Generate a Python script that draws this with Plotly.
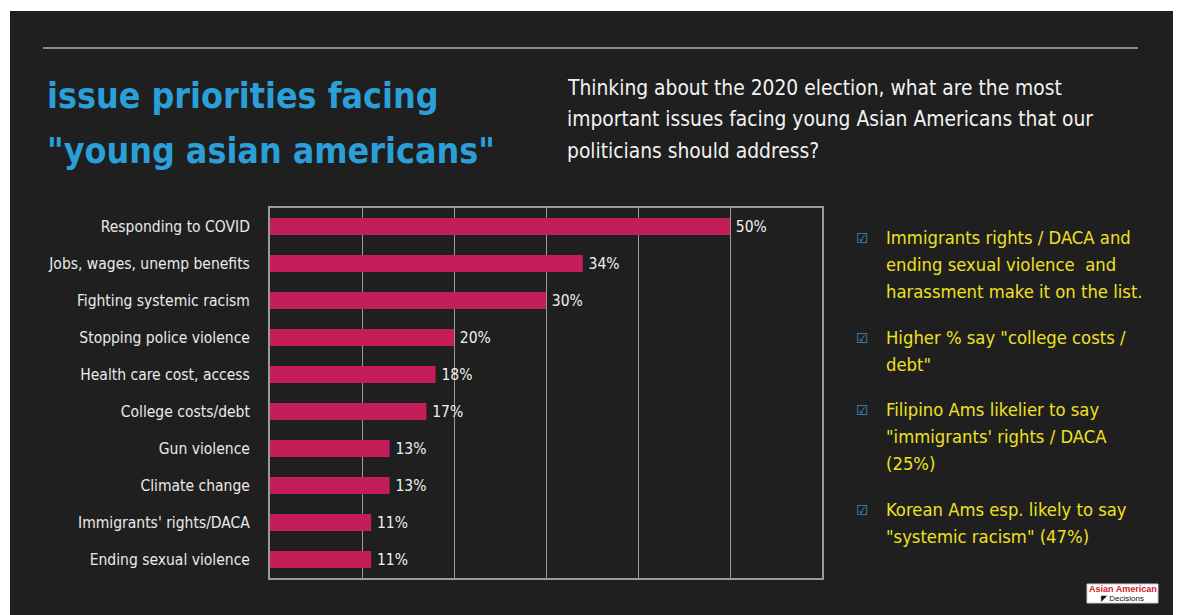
import plotly.graph_objects as go

W, H = 1178, 615
PL, PR, PT, PB = 270, 822, 208, 578  # plot area in pixels

categories = ["Responding to COVID", "Jobs, wages, unemp benefits", "Fighting systemic racism",
              "Stopping police violence", "Health care cost, access", "College costs/debt",
              "Gun violence", "Climate change", "Immigrants' rights/DACA", "Ending sexual violence"]
values = [50, 34, 30, 20, 18, 17, 13, 13, 11, 11]

title_lines = ["issue priorities facing", "\"young asian americans\""]
subtitle_lines = ["Thinking about the 2020 election, what are the most",
                  "important issues facing young Asian Americans that our",
                  "politicians should address?"]
notes = [
    ["Immigrants rights / DACA and", "ending sexual violence  and", "harassment make it on the list."],
    ["Higher % say \"college costs /", "debt\""],
    ["Filipino Ams likelier to say", "\"immigrants' rights / DACA", "(25%)"],
    ["Korean Ams esp. likely to say", "\"systemic racism\" (47%)"],
]

FONT = "Liberation Sans Narrow, DejaVu Sans Condensed, Arial Narrow, sans-serif"
BG = "#1f1f1f"


def px(x):
    return (x - PL) / (PR - PL)


def py(y):
    return (PB - y) / (PB - PT)


fig = go.Figure()
fig.add_trace(go.Bar(
    x=values, y=categories, orientation="h",
    marker=dict(color="#c41e5a", line=dict(width=0)),
    width=0.46,
    text=[f"\u2009{v}%" for v in values], textposition="outside", constraintext="none",
    textfont=dict(family=FONT, size=15.5, color="#f0f0f0"),
    cliponaxis=False,
))

shapes = [
    dict(type="rect", xref="paper", yref="paper", x0=px(10), x1=px(1173), y0=py(615), y1=py(11),
         fillcolor=BG, line=dict(width=0), layer="below"),
    dict(type="line", xref="paper", yref="paper", x0=px(43), x1=px(1138), y0=py(48), y1=py(48),
         line=dict(color="#8a8a8a", width=2)),
    dict(type="rect", xref="paper", yref="paper", x0=px(1087), x1=px(1158), y0=py(603), y1=py(584),
         fillcolor="white", line=dict(color="#cccccc", width=1)),
]

ann = []
title_y = [95, 150]
for t, y in zip(title_lines, title_y):
    ann.append(dict(text=f"<b>{t}</b>", x=px(45), y=py(y), xref="paper", yref="paper",
                    xanchor="left", yanchor="middle", showarrow=False,
                    font=dict(family=FONT, size=35.5, color="#2a9fd8")))
sub_y = [88, 119, 151]
for t, y in zip(subtitle_lines, sub_y):
    ann.append(dict(text=t, x=px(565), y=py(y), xref="paper", yref="paper",
                    xanchor="left", yanchor="middle", showarrow=False,
                    font=dict(family=FONT, size=20.8, color="#f2f2f2")))
note_y = [[237, 264, 291], [337, 364], [409, 436, 463], [509, 536]]
for lines, ys in zip(notes, note_y):
    ann.append(dict(text="☑", x=px(862), y=py(ys[0] + 1), xref="paper", yref="paper",
                    xanchor="center", yanchor="middle", showarrow=False,
                    font=dict(family="DejaVu Sans", size=14, color="#3a8cc0")))
    for t, y in zip(lines, ys):
        ann.append(dict(text=t, x=px(884), y=py(y), xref="paper", yref="paper",
                        xanchor="left", yanchor="middle", showarrow=False,
                        font=dict(family=FONT, size=18.3, color="#f0e020")))
ann.append(dict(text="<b>Asian American</b>", x=px(1122.5), y=py(589), xref="paper", yref="paper",
                xanchor="center", yanchor="middle", showarrow=False,
                font=dict(family="Liberation Sans, Arial", size=9, color="#d0202a")))
ann.append(dict(text="◤ Decisions", x=px(1122.5), y=py(598), xref="paper", yref="paper",
                xanchor="center", yanchor="middle", showarrow=False,
                font=dict(family="Liberation Sans, Arial", size=8, color="#111111")))

fig.update_layout(
    width=W, height=H,
    margin=dict(l=PL, r=W - PR, t=PT, b=H - PB, pad=0),
    paper_bgcolor="white", plot_bgcolor=BG,
    showlegend=False,
    shapes=shapes, annotations=ann,
    xaxis=dict(range=[0, 60], dtick=10, showgrid=True, gridcolor="#9a9a9a", gridwidth=1,
               showticklabels=False, zeroline=False, showline=True, linecolor="#9a9a9a",
               linewidth=2, mirror=True, fixedrange=True),
    yaxis=dict(categoryorder="array", categoryarray=categories, range=[9.5, -0.5],
               showgrid=False, showline=True, linecolor="#9a9a9a", linewidth=2, mirror=True,
               ticks="", ticklabelstandoff=15,
               tickfont=dict(family=FONT, size=15.5, color="#eaeaea"), fixedrange=True),
)

fig.write_html("out.html", config={"displayModeBar": False})
